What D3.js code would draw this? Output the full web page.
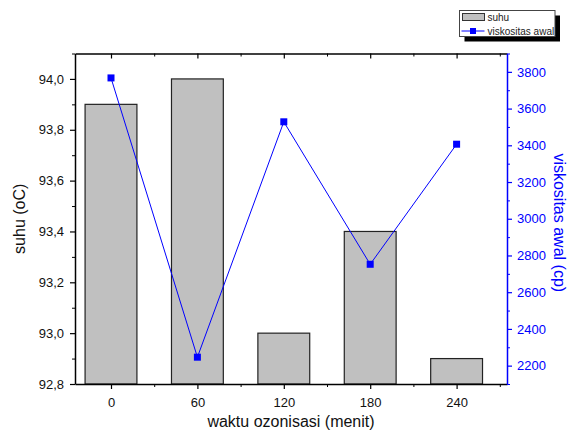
<!DOCTYPE html>
<html lang="en">
<head>
    <meta charset="UTF-8">
    <title>suhu dan viskositas awal</title>
    <script src="https://d3js.org/d3.v7.min.js"></script>
    <style>
        body { margin: 0; background: #fff; }
        text { font-family: Arial, "Liberation Sans", sans-serif; }
    </style>
</head>
<body>
    <script>
        const waktu = [0, 60, 120, 180, 240];
        const suhu = [93.9, 94.0, 93.0, 93.4, 92.9];
        const viskositas = [3767, 2246, 3528, 2752, 3406];
        const suhuTicks = [92.8, 93.0, 93.2, 93.4, 93.6, 93.8, 94.0];
        const viskTicks = [2200, 2400, 2600, 2800, 3000, 3200, 3400, 3600, 3800];

        const margin = { top: 53.5, right: 62, bottom: 48, left: 75 };
        const W = 569, H = 432;
        const width = W - margin.left - margin.right;
        const height = H - margin.top - margin.bottom;
        const blue = "#0000ff";

        const svg = d3.select("body").append("svg")
            .attr("width", W)
            .attr("height", H);
        const g = svg.append("g")
            .attr("transform", `translate(${margin.left},${margin.top})`);

        const x = d3.scaleLinear().domain([-25, 275]).range([0, width]);
        const yL = d3.scaleLinear().domain([92.8, 94.1]).range([height, 0]);
        const yR = d3.scaleLinear().domain([2100, 3900]).range([height, 0]);

        const fmt = d => d.toFixed(1).replace(".", ",");

        // bars
        const barW = x(36) - x(0);
        g.selectAll("rect.bar")
            .data(waktu)
            .enter()
            .append("rect")
            .attr("class", "bar")
            .attr("x", (d) => x(d) - barW / 2)
            .attr("y", (d, i) => yL(suhu[i]))
            .attr("width", barW)
            .attr("height", (d, i) => height - yL(suhu[i]))
            .style("fill", "#c0c0c0")
            .style("stroke", "#222")
            .style("stroke-width", 1.2);

        // line
        const line = d3.line()
            .x((d, i) => x(waktu[i]))
            .y(d => yR(d));
        g.append("path")
            .datum(viskositas)
            .attr("d", line)
            .style("fill", "none")
            .style("stroke", blue)
            .style("stroke-width", 1);
        g.selectAll("rect.pt")
            .data(viskositas)
            .enter()
            .append("rect")
            .attr("class", "pt")
            .attr("x", (d, i) => x(waktu[i]) - 3.5)
            .attr("y", d => yR(d) - 3.5)
            .attr("width", 7)
            .attr("height", 7)
            .style("fill", blue);

        // axes
        const minorX = d3.range(-0, 271, 30);
        const styleAxis = (sel, color) => {
            sel.select(".domain").style("stroke", color).style("stroke-width", 1.5);
            sel.selectAll(".tick line").style("stroke", color).style("stroke-width", 1.2);
            sel.selectAll("text").style("font-size", "13px").style("fill", color === blue ? blue : "#111");
        };

        const xAxis = g.append("g")
            .attr("transform", `translate(0,${height})`)
            .call(d3.axisBottom(x).tickValues(waktu).tickSize(5).tickPadding(9).tickSizeOuter(0));
        styleAxis(xAxis, "#000");
        g.append("g")
            .attr("transform", `translate(0,${height})`)
            .call(d3.axisBottom(x).tickValues(minorX.filter(v => waktu.indexOf(v) < 0)).tickSize(3).tickFormat("").tickSizeOuter(0))
            .call(s => s.select(".domain").remove())
            .selectAll("line").style("stroke", "#000");

        const topAxis = g.append("g")
            .call(d3.axisBottom(x).tickValues(waktu).tickSize(5).tickFormat("").tickSizeOuter(0));
        styleAxis(topAxis, "#000");
        g.append("g")
            .call(d3.axisBottom(x).tickValues(minorX.filter(v => waktu.indexOf(v) < 0)).tickSize(3).tickFormat("").tickSizeOuter(0))
            .call(s => s.select(".domain").remove())
            .selectAll("line").style("stroke", "#000");

        const leftAxis = g.append("g")
            .call(d3.axisLeft(yL).tickValues(suhuTicks).tickFormat(fmt).tickSize(5).tickPadding(6).tickSizeOuter(0));
        styleAxis(leftAxis, "#000");
        g.append("g")
            .call(d3.axisLeft(yL).tickValues(suhuTicks.slice(0, -1).map(v => v + 0.1).concat([94.1])).tickSize(3).tickFormat("").tickSizeOuter(0))
            .call(s => s.select(".domain").remove())
            .selectAll("line").style("stroke", "#000");

        const rightAxis = g.append("g")
            .attr("transform", `translate(${width},0)`)
            .call(d3.axisRight(yR).tickValues(viskTicks).tickFormat(d3.format("d")).tickSize(5).tickPadding(5).tickSizeOuter(0));
        styleAxis(rightAxis, blue);
        g.append("g")
            .attr("transform", `translate(${width},0)`)
            .call(d3.axisRight(yR).tickValues(viskTicks.map(v => v - 100).concat([3900])).tickSize(3).tickFormat("").tickSizeOuter(0))
            .call(s => s.select(".domain").remove())
            .selectAll("line").style("stroke", blue);

        // axis titles
        svg.append("text")
            .attr("transform", `translate(25,${margin.top + height / 2}) rotate(-90)`)
            .attr("text-anchor", "middle")
            .style("font-size", "16px")
            .style("fill", "#111")
            .text("suhu (oC)");
        svg.append("text")
            .attr("transform", `translate(554,${margin.top + height / 2 + 4}) rotate(90)`)
            .attr("text-anchor", "middle")
            .style("font-size", "16px")
            .style("fill", blue)
            .text("viskositas awal (cp)");
        svg.append("text")
            .attr("x", margin.left + width / 2)
            .attr("y", 427)
            .attr("text-anchor", "middle")
            .style("font-size", "16px")
            .style("fill", "#111")
            .text("waktu ozonisasi (menit)");

        // legend
        const lg = svg.append("g").attr("transform", "translate(459.5,10.5)");
        lg.append("rect").attr("x", 5).attr("y", 5).attr("width", 95.5).attr("height", 26).style("fill", "#000");
        lg.append("rect").attr("width", 95.5).attr("height", 26).style("fill", "#fff").style("stroke", "#444").style("stroke-width", 1);
        lg.append("rect").attr("x", 3).attr("y", 3).attr("width", 22).attr("height", 7)
            .style("fill", "#c0c0c0").style("stroke", "#333").style("stroke-width", 1);
        lg.append("text").attr("x", 28).attr("y", 10).style("font-size", "10px").style("fill", "#222").text("suhu");
        lg.append("line").attr("x1", 2).attr("x2", 25).attr("y1", 20.5).attr("y2", 20.5).style("stroke", blue);
        lg.append("rect").attr("x", 10.5).attr("y", 17.5).attr("width", 6).attr("height", 6).style("fill", blue);
        lg.append("text").attr("x", 28).attr("y", 24).style("font-size", "10px").style("fill", "#222").text("viskositas awal");
    </script>
</body>
</html>
